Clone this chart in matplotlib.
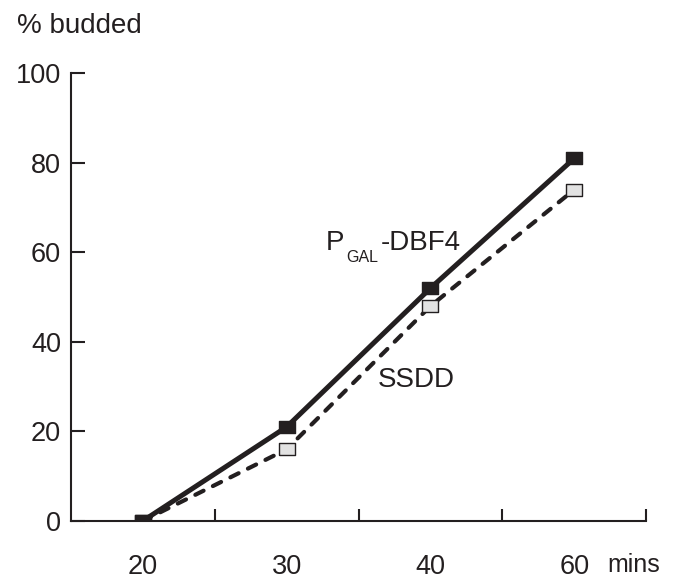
import matplotlib
matplotlib.use('Agg')
from matplotlib import pyplot as plt
import numpy as np

plt.rcParams['font.family'] = ['Liberation Sans', 'DejaVu Sans']

times = ['20', '30', '40', '60']
pgal_dbf4 = [0, 21, 52, 81]
ssdd = [0, 16, 48, 74]

ink = '#231f20'
rect = [(-1, -0.75), (1, -0.75), (1, 0.75), (-1, 0.75), (-1, -0.75)]

fig = plt.figure(figsize=(6.81, 5.81), dpi=100)
ax = fig.add_axes([0.104, 0.1033, 0.845, 0.7707])
x = np.arange(len(times))

ax.plot(x, ssdd, color=ink, lw=3, dashes=(2.2, 2.5), dash_capstyle='round',
        marker=rect, markersize=12,
        markerfacecolor='#e2e2e2', markeredgecolor=ink, markeredgewidth=1)
ax.plot(x, pgal_dbf4, color=ink, lw=3.6, marker=rect, markersize=12,
        markerfacecolor=ink, markeredgecolor=ink)

ax.set_xlim(-0.5, 3.5)
ax.set_ylim(0, 100)
ax.set_yticks(np.arange(0, 101, 20))
ax.set_xticks(x)
ax.set_xticklabels(times)
ax.set_xticks(x + 0.5, minor=True)
ax.tick_params(axis='x', which='major', length=0, pad=24, labelsize=19.5, colors=ink)
ax.tick_params(axis='x', which='minor', direction='in', length=9, width=1.5, color=ink)
ax.tick_params(axis='y', direction='in', length=10, width=1.5, pad=7, labelsize=19.5, colors=ink)
ax.tick_params(axis='y', which='minor', left=False)

for s in ['top', 'right']:
    ax.spines[s].set_visible(False)
for s in ['left', 'bottom']:
    ax.spines[s].set_linewidth(1.5)
    ax.spines[s].set_color(ink)

# P_GAL-DBF4 label built from pieces so the subscript can be small
lx, ly = 1.273, 60.5
ax.annotate('P', (lx, ly), fontsize=20, color=ink, va='baseline')
ax.annotate('GAL', (lx, ly), xytext=(14.6, -8.4), textcoords='offset points',
            fontsize=11.5, color=ink, va='baseline')
ax.annotate('-DBF4', (lx, ly), xytext=(39.6, 0), textcoords='offset points',
            fontsize=20, color=ink, va='baseline')
ax.text(1.636, 29.9, 'SSDD', fontsize=20, color=ink, va='baseline')
ax.text(3.23, -11.3, 'mins', fontsize=18, color=ink, va='baseline')
fig.text(0.025, 0.943, '% budded', fontsize=20, color=ink, va='baseline')

fig.savefig('out.png', dpi=100)
